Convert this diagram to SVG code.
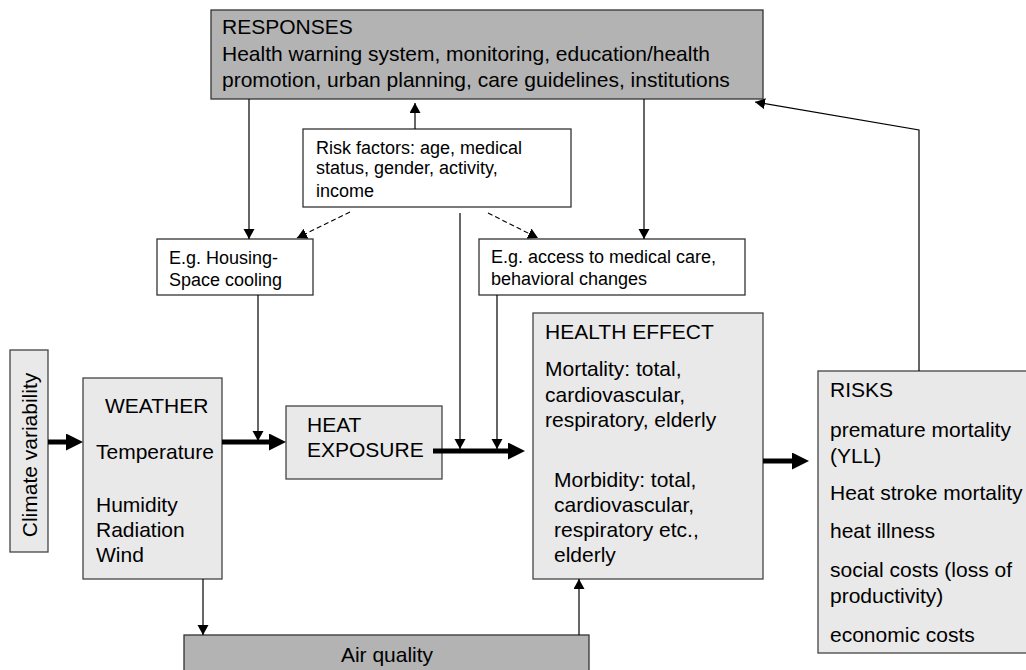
<svg xmlns="http://www.w3.org/2000/svg" width="1026" height="670" viewBox="0 0 1026 670">
  <defs>
    <style>
      text { font-family: "Liberation Sans", Arial, sans-serif; fill: #000; }
      .t21 { font-size: 21px; }
      .t18 { font-size: 18px; }
      .light { fill: #e9e9e9; stroke: #444; stroke-width: 1.3; }
      .dark { fill: #b3b3b3; stroke: #333; stroke-width: 1.3; }
      .plain { fill: #fff; stroke: #333; stroke-width: 1.3; }
      .thin { fill: none; stroke: #000; stroke-width: 1.2; }
      .dash { fill: none; stroke: #000; stroke-width: 1.1; stroke-dasharray: 5 3; }
      .thick { fill: none; stroke: #000; stroke-width: 5; }
    </style>
    <marker id="head" markerUnits="userSpaceOnUse" markerWidth="11" markerHeight="12" refX="10" refY="5.5" orient="auto">
      <path d="M0,0 L10,5.5 L0,11 z" fill="#000"/>
    </marker>
    <marker id="bighead" markerUnits="userSpaceOnUse" markerWidth="18" markerHeight="18" refX="0" refY="8.5" orient="auto">
      <path d="M0,0 L17,8.5 L0,17 z" fill="#000"/>
    </marker>
  </defs>

  <!-- boxes -->
  <g id="responses">
    <rect class="dark" x="211" y="10" width="552" height="89"/>
    <text class="t21" x="222" y="34">RESPONSES</text>
    <text class="t21" x="222" y="61">Health warning system, monitoring, education/health</text>
    <text class="t21" x="222" y="87">promotion, urban planning, care guidelines, institutions</text>
  </g>

  <g id="risk-factors">
    <rect class="plain" x="303" y="129" width="268" height="78"/>
    <text class="t18" x="316" y="154">Risk factors: age, medical</text>
    <text class="t18" x="316" y="174">status, gender, activity,</text>
    <text class="t18" x="316" y="197">income</text>
  </g>

  <g id="housing">
    <rect class="plain" x="157" y="239" width="156" height="56"/>
    <text class="t18" x="169" y="264">E.g. Housing-</text>
    <text class="t18" x="169" y="286">Space cooling</text>
  </g>

  <g id="access">
    <rect class="plain" x="479" y="239" width="266" height="56"/>
    <text class="t18" x="491" y="263">E.g. access to medical care,</text>
    <text class="t18" x="491" y="285">behavioral changes</text>
  </g>

  <g id="climate">
    <rect class="light" x="10" y="350" width="38" height="202"/>
    <text class="t21" transform="translate(37,455) rotate(-90)" text-anchor="middle">Climate variability</text>
  </g>

  <g id="weather">
    <rect class="light" x="83" y="378" width="139" height="201"/>
    <text class="t21" x="105" y="413">WEATHER</text>
    <text class="t21" x="96" y="459">Temperature</text>
    <text class="t21" x="96" y="512">Humidity</text>
    <text class="t21" x="96" y="537">Radiation</text>
    <text class="t21" x="96" y="562">Wind</text>
  </g>

  <g id="heat-exposure">
    <rect class="light" x="286" y="406" width="156" height="73"/>
    <text class="t21" x="307" y="432">HEAT</text>
    <text class="t21" x="307" y="457">EXPOSURE</text>
  </g>

  <g id="health-effect">
    <rect class="light" x="533" y="313" width="230" height="266"/>
    <text class="t21" x="545" y="339">HEALTH EFFECT</text>
    <text class="t21" x="545" y="376">Mortality: total,</text>
    <text class="t21" x="545" y="402">cardiovascular,</text>
    <text class="t21" x="545" y="427">respiratory, elderly</text>
    <text class="t21" x="554" y="487">Morbidity: total,</text>
    <text class="t21" x="554" y="512">cardiovascular,</text>
    <text class="t21" x="554" y="537">respiratory etc.,</text>
    <text class="t21" x="554" y="562">elderly</text>
  </g>

  <g id="risks">
    <rect class="light" x="818" y="371" width="220" height="282"/>
    <text class="t21" x="830" y="397">RISKS</text>
    <text class="t21" x="830" y="437">premature mortality</text>
    <text class="t21" x="830" y="463">(YLL)</text>
    <text class="t21" x="830" y="500">Heat stroke mortality</text>
    <text class="t21" x="830" y="538">heat illness</text>
    <text class="t21" x="830" y="577">social costs (loss of</text>
    <text class="t21" x="830" y="603">productivity)</text>
    <text class="t21" x="830" y="642">economic costs</text>
  </g>

  <g id="air-quality">
    <rect class="dark" x="184" y="635" width="405" height="45"/>
    <text class="t21" x="387" y="662" text-anchor="middle">Air quality</text>
  </g>

  <!-- connectors -->
  <g id="connectors">
    <!-- main heat chain -->
    <path class="thick" d="M48,442 H66" marker-end="url(#bighead)"/>
    <path class="thick" d="M222,442 H269" marker-end="url(#bighead)"/>
    <path class="thick" d="M433,451 H508" marker-end="url(#bighead)"/>
    <path class="thick" d="M763,461 H792" marker-end="url(#bighead)"/>

    <!-- modifiers feeding the chain -->
    <path class="thin" d="M258,295 V441" marker-end="url(#head)"/>
    <path class="thin" d="M460,213 V449" marker-end="url(#head)"/>
    <path class="thin" d="M497,295 V449" marker-end="url(#head)"/>

    <!-- responses down to adaptation measures -->
    <path class="thin" d="M249,99 V239" marker-end="url(#head)"/>
    <path class="thin" d="M644,99 V239" marker-end="url(#head)"/>

    <!-- risk factors -->
    <path class="thin" d="M415,129 V103" marker-end="url(#head)"/>
    <path class="dash" d="M350,212 L297,238" marker-end="url(#head)"/>
    <path class="dash" d="M488,213 L538,238" marker-end="url(#head)"/>

    <!-- air quality loop -->
    <path class="thin" d="M203,579 V635" marker-end="url(#head)"/>
    <path class="thin" d="M579,635 V579" marker-end="url(#head)"/>

    <!-- feedback from risks to responses -->
    <path class="thin" d="M919,371 V130 L755,102" marker-end="url(#head)"/>
  </g>
</svg>
